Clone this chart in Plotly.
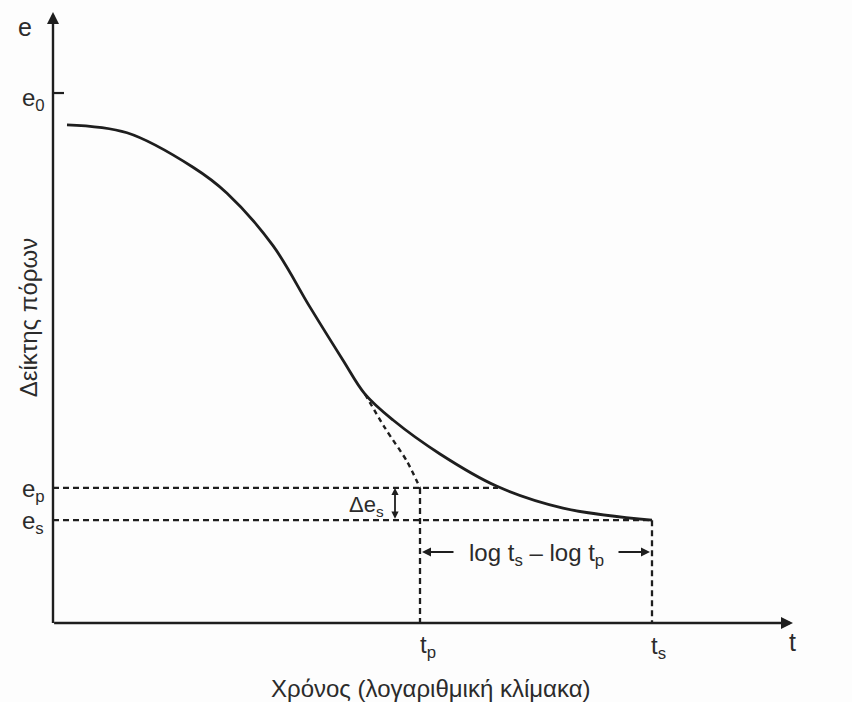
import plotly.graph_objects as go

# ---- data (x: log-time units, y: void ratio e) ----
curve_x = [0.14, 0.74, 1.40, 1.74, 2.20, 2.57, 2.90, 3.12, 3.40, 3.87, 4.44, 5.10, 5.99]
curve_e = [0.940, 0.925, 0.860, 0.811, 0.712, 0.596, 0.496, 0.432, 0.383, 0.319, 0.258, 0.217, 0.194]

primary_ext_x = [3.12, 3.32, 3.54, 3.67]
primary_ext_e = [0.432, 0.368, 0.305, 0.255]

e0 = 1.0
ep = 0.255
es = 0.194
tp = 3.67
ts = 5.99
ep_line_end = 4.45
x_axis_end = 7.40
y_axis_end = 1.153

FONT = "Liberation Sans, Arial, sans-serif"
INK = "#1e1e1e"
TXT = "#2b2b2b"

fig = go.Figure()

# main curve
fig.add_trace(go.Scatter(x=curve_x, y=curve_e, mode="lines",
                         line=dict(color=INK, width=2.8, shape="spline", smoothing=1.0),
                         hoverinfo="skip", showlegend=False))
# primary-consolidation extension (dashed)
fig.add_trace(go.Scatter(x=primary_ext_x, y=primary_ext_e, mode="lines",
                         line=dict(color=INK, width=2.4, dash="5px,4px", shape="spline", smoothing=0.8),
                         hoverinfo="skip", showlegend=False))
# dashed guide lines
dash = dict(color=INK, width=2.3, dash="6px,4px")
fig.add_trace(go.Scatter(x=[0, ep_line_end], y=[ep, ep], mode="lines", line=dash,
                         hoverinfo="skip", showlegend=False))
fig.add_trace(go.Scatter(x=[0, ts], y=[es, es], mode="lines", line=dash,
                         hoverinfo="skip", showlegend=False))
fig.add_trace(go.Scatter(x=[tp, tp], y=[ep, 0], mode="lines", line=dash,
                         hoverinfo="skip", showlegend=False))
fig.add_trace(go.Scatter(x=[ts, ts], y=[es, 0], mode="lines", line=dash,
                         hoverinfo="skip", showlegend=False))
# e0 tick
fig.add_trace(go.Scatter(x=[0, 0.11], y=[e0, e0], mode="lines",
                         line=dict(color=INK, width=2.2), hoverinfo="skip", showlegend=False))

ann = []
def arrow(x0, y0, x1, y1, width=2, size=1.0, head=2, side="end"):
    ann.append(dict(x=x1, y=y1, ax=x0, ay=y0, xref="x", yref="y", axref="x", ayref="y",
                    showarrow=True, arrowhead=head, arrowsize=size, arrowwidth=width,
                    arrowcolor=INK, arrowside=side, text=""))

# axes with arrowheads
arrow(0, -0.003, 0, y_axis_end, width=2.4, size=1.0, head=2)
arrow(-0.004, 0, x_axis_end, 0, width=2.4, size=1.0, head=2)
# Δe_s double arrow
arrow(3.42, es, 3.42, ep, width=1.8, size=0.8, head=2, side="end+start")
# log ts - log tp arrows
y_log = 0.134
arrow(4.02, y_log, tp + 0.02, y_log, width=2.0, size=0.9, head=2)
arrow(5.64, y_log, ts - 0.02, y_log, width=2.0, size=0.9, head=2)

def label(x, y, text, size=24, angle=0):
    ann.append(dict(x=x, y=y, xref="x", yref="y", text=text, showarrow=False,
                    textangle=angle, font=dict(family=FONT, size=size, color=TXT),
                    xanchor="center", yanchor="middle"))

label(-0.28, 1.125, "e", 25)
label(-0.20, 0.987, "e<sub>0</sub>", 24)
label(-0.20, 0.251, "e<sub>p</sub>", 24)
label(-0.20, 0.189, "e<sub>s</sub>", 24)
label(3.13, 0.220, "Δe<sub>s</sub>", 22)
label(4.83, 0.130, "log t<sub>s</sub> – log t<sub>p</sub>", 24)
label(3.75, -0.045, "t<sub>p</sub>", 24)
label(6.05, -0.047, "t<sub>s</sub>", 24)
label(7.39, -0.036, "t", 25)
label(3.78, -0.123, "Χρόνος (λογαριθμική κλίμακα)", 24)
label(-0.25, 0.575, "Δείκτης πόρων", 24, angle=-90)

fig.update_layout(
    width=852, height=702,
    margin=dict(l=0, r=0, t=0, b=0),
    paper_bgcolor="#fdfdfd", plot_bgcolor="#fdfdfd",
    xaxis=dict(range=[-0.53, 7.99], visible=False, fixedrange=True),
    yaxis=dict(range=[-0.149, 1.1755], visible=False, fixedrange=True),
    annotations=ann,
    showlegend=False,
)

fig.write_html("out.html")
